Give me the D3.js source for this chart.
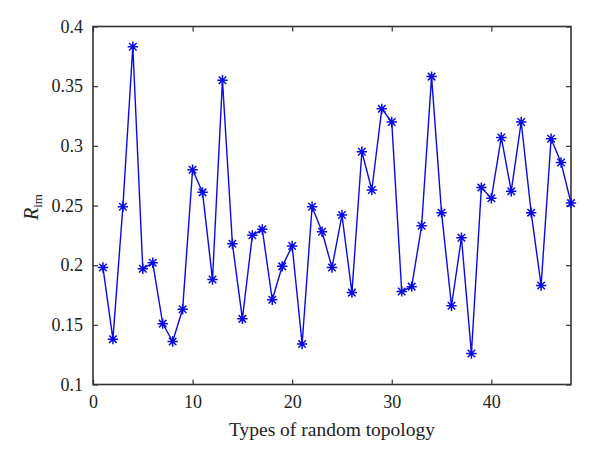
<!DOCTYPE html>
<html>
<head>
<meta charset="utf-8">
<script src="https://cdn.jsdelivr.net/npm/d3@7"></script>
<style>
  html, body { margin: 0; padding: 0; background: #fff; }
  svg { display: block; }
  text { font-family: "Liberation Serif", "DejaVu Serif", serif; fill: #222; }
</style>
</head>
<body>
<svg id="chart" width="600" height="461"></svg>
<script>
const xValues = d3.range(1, 49);
const rimValues = [
  0.198, 0.138, 0.249, 0.383, 0.197, 0.202, 0.151, 0.136, 0.163, 0.280,
  0.261, 0.188, 0.355, 0.218, 0.155, 0.225, 0.230, 0.171, 0.199, 0.216,
  0.134, 0.249, 0.228, 0.198, 0.242, 0.177, 0.295, 0.263, 0.331, 0.320,
  0.178, 0.182, 0.233, 0.358, 0.244, 0.166, 0.223, 0.126, 0.265, 0.256,
  0.307, 0.262, 0.320, 0.244, 0.183, 0.306, 0.286, 0.252
];
const xTicks = [0, 10, 20, 30, 40];
const yTicks = [0.1, 0.15, 0.2, 0.25, 0.3, 0.35, 0.4];
const xLabel = "Types of random topology";

const svg = d3.select("#chart");
const mLeft = 93, mRight = 571, mTop = 26.5, mBottom = 384.5;

const x = d3.scaleLinear().domain([0, 48]).range([mLeft, mRight]);
const y = d3.scaleLinear().domain([0.1, 0.4]).range([mBottom, mTop]);

const axisColor = "#333";
const tickLen = 5;

const gx = svg.append("g").attr("transform", `translate(0,${mBottom})`)
  .call(d3.axisBottom(x).tickValues(xTicks).tickSizeInner(-tickLen).tickSizeOuter(0).tickPadding(11)
    .tickFormat(d3.format("d")));
const gxt = svg.append("g").attr("transform", `translate(0,${mTop})`)
  .call(d3.axisTop(x).tickValues(xTicks).tickSizeInner(-tickLen).tickSizeOuter(0).tickFormat(""));
const gy = svg.append("g").attr("transform", `translate(${mLeft},0)`)
  .call(d3.axisLeft(y).tickValues(yTicks).tickSizeInner(-tickLen).tickSizeOuter(0).tickPadding(10)
    .tickFormat(d => String(+d.toFixed(2))));
const gyr = svg.append("g").attr("transform", `translate(${mRight},0)`)
  .call(d3.axisRight(y).tickValues(yTicks).tickSizeInner(-tickLen).tickSizeOuter(0).tickFormat(""));

[gx, gxt, gy, gyr].forEach(g => {
  g.select(".domain").remove();
  g.selectAll(".tick line").attr("stroke", axisColor).attr("stroke-width", 1.2);
  g.selectAll("text").attr("font-size", 18).attr("fill", "#222")
    .style("font-family", '"Liberation Serif", "DejaVu Serif", serif');
});

svg.append("rect")
  .attr("x", mLeft).attr("y", mTop)
  .attr("width", mRight - mLeft).attr("height", mBottom - mTop)
  .attr("fill", "none").attr("stroke", axisColor).attr("stroke-width", 1.6);

const data = xValues.map((d, i) => [d, rimValues[i]]);
const blue = "#0a0ae6";
svg.append("path")
  .datum(data)
  .attr("fill", "none")
  .attr("stroke", blue)
  .attr("stroke-width", 1.4)
  .attr("d", d3.line().x(d => x(d[0])).y(d => y(d[1])));

const r = 5.2, rd = r * 0.72;
const star = `M${-r},0L${r},0M0,${-r}L0,${r}M${-rd},${-rd}L${rd},${rd}M${-rd},${rd}L${rd},${-rd}`;
svg.append("g").selectAll("path")
  .data(data)
  .join("path")
  .attr("transform", d => `translate(${x(d[0])},${y(d[1])})`)
  .attr("d", star)
  .attr("fill", "none")
  .attr("stroke", blue)
  .attr("stroke-width", 1.5);

svg.append("text")
  .attr("x", (mLeft + mRight) / 2)
  .attr("y", 436)
  .attr("text-anchor", "middle")
  .attr("font-size", 19.5)
  .text(xLabel);

const yl = svg.append("text")
  .attr("transform", `translate(38,207) rotate(-90)`)
  .attr("text-anchor", "middle")
  .attr("font-size", 20);
yl.append("tspan").attr("font-style", "italic").text("R");
yl.append("tspan").attr("font-size", 13).attr("dy", 4).text("im");
</script>
</body>
</html>
